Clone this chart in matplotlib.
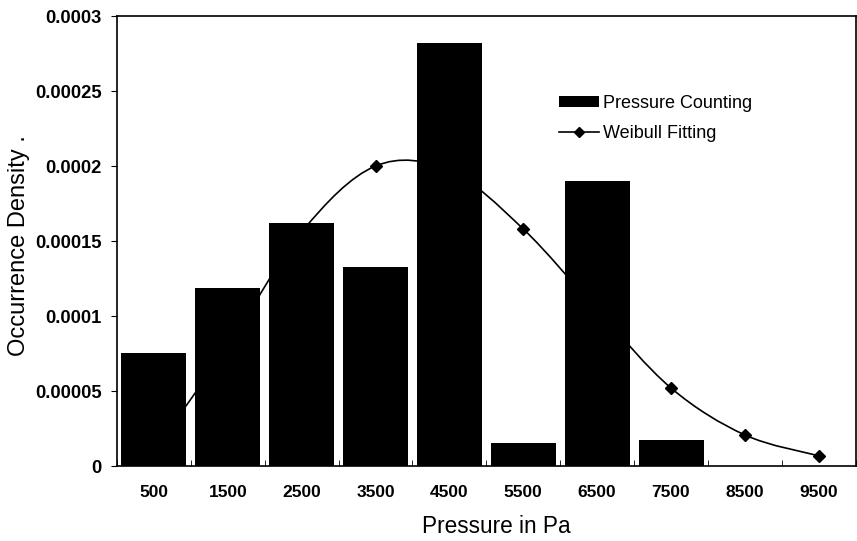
import numpy as np
import matplotlib
matplotlib.use('Agg')
import matplotlib.pyplot as plt
from matplotlib.path import Path
from matplotlib.patches import PathPatch
from matplotlib.lines import Line2D
from matplotlib.patches import Patch

plt.rcParams['font.family'] = ['Liberation Sans', 'DejaVu Sans']

# data
pressure = ['500', '1500', '2500', '3500', '4500', '5500', '6500', '7500', '8500', '9500']
counting = [0.0000755, 0.000119, 0.000162, 0.000133, 0.000282, 0.0000155, 0.00019, 0.0000175, 0.0, 0.0]
weibull = [0.00001, 0.00008, 0.000156, 0.0002, 0.000197, 0.000158, 0.000104, 0.000052, 0.0000207, 0.0000068]

x = np.arange(len(pressure))

fig = plt.figure(figsize=(8.57, 5.41), dpi=100)
ax = fig.add_axes([0.1365, 0.1386, 0.862, 0.8318])

# smoothed line through the points (bezier segments, like excel's smoothed line)
y = np.array(weibull)
verts = [(x[0], y[0])]
codes = [Path.MOVETO]
for i in range(len(x) - 1):
    x0, y0 = (x[i - 1], y[i - 1]) if i > 0 else (x[i], y[i])
    x3, y3 = (x[i + 2], y[i + 2]) if i + 2 < len(x) else (x[i + 1], y[i + 1])
    c1 = (x[i] + (x[i + 1] - x0) / 6, y[i] + (y[i + 1] - y0) / 6)
    c2 = (x[i + 1] - (x3 - x[i]) / 6, y[i + 1] - (y3 - y[i]) / 6)
    verts += [c1, c2, (x[i + 1], y[i + 1])]
    codes += [Path.CURVE4] * 3
ax.add_patch(PathPatch(Path(verts, codes), facecolor='none', edgecolor='black', lw=1.2, zorder=1))
ax.plot(x, weibull, ls='none', marker='D', ms=6.5, color='black', zorder=1)

ax.bar(x, counting, width=0.88, color='black', zorder=2)

ax.set_xlim(-0.5, 9.5)
ax.set_ylim(0, 0.0003)
ax.set_yticks([0, 0.00005, 0.0001, 0.00015, 0.0002, 0.00025, 0.0003])
ax.set_yticklabels(['0', '0.00005', '0.0001', '0.00015', '0.0002', '0.00025', '0.0003'])
ax.set_xticks(x)
ax.set_xticklabels(pressure)
ax.set_xticks(np.arange(-0.5, 10, 1), minor=True)
ax.tick_params(axis='x', which='major', length=0, pad=14, labelsize=12.5)
ax.tick_params(axis='x', which='minor', direction='in', length=4)
ax.tick_params(axis='y', direction='out', length=4, labelsize=13.2, pad=7)
for lab in ax.get_xticklabels() + ax.get_yticklabels():
    lab.set_fontweight('bold')
for s in ax.spines.values():
    s.set_linewidth(1.2)

ax.set_xlabel('Pressure in Pa', fontsize=16.3)
ax.xaxis.set_label_coords(0.513, -0.108)
ax.set_ylabel('Occurrence Density .', fontsize=17)
ax.yaxis.set_label_coords(-0.118, 0.489)

handles = [Patch(facecolor='black'),
           Line2D([], [], color='black', lw=1.2, marker='D', ms=5)]
ax.legend(handles, ['Pressure Counting', 'Weibull Fitting'], loc='upper left',
          bbox_to_anchor=(0.577, 0.86), frameon=False, fontsize=13,
          handlelength=2.17, handleheight=0.55, handletextpad=0.25, labelspacing=0.72)

plt.savefig('out.png', dpi=100)
